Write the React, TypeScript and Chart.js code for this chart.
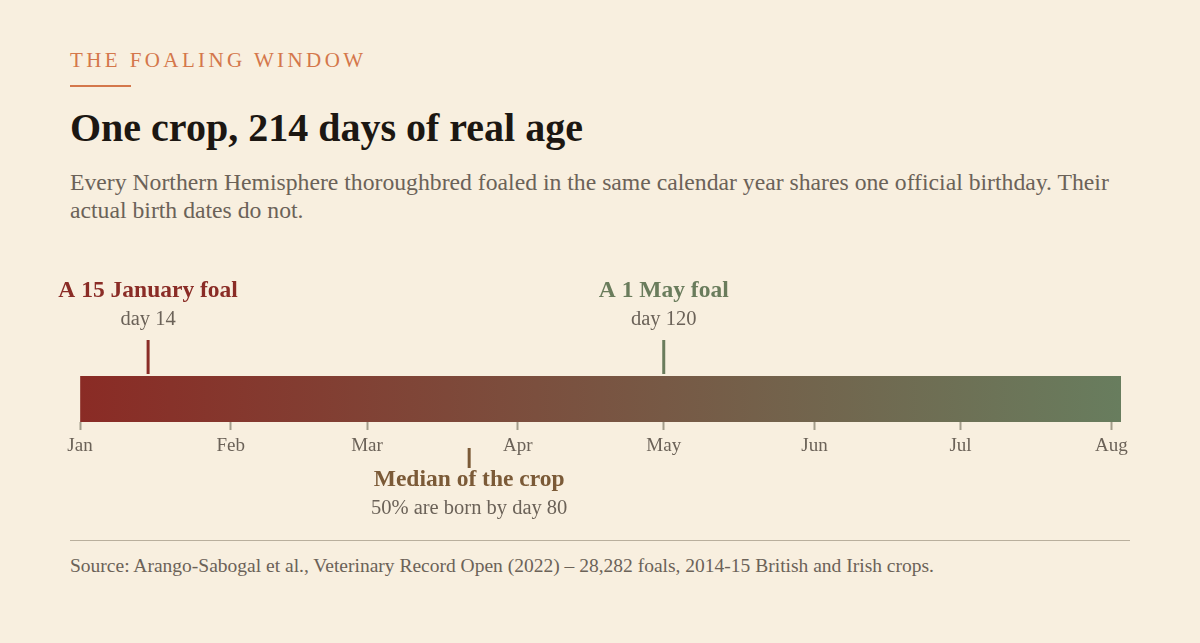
import React, { useEffect, useRef } from 'react';
import { Chart, registerables } from 'chart.js';
Chart.register(...registerables);

// timeline data (day of year, 0 = 1 Jan)
const SEASON_START = 0;
const SEASON_END = 214;
const monthDays = [0, 31, 59, 90, 120, 151, 181, 212];
const monthLabels = ['Jan', 'Feb', 'Mar', 'Apr', 'May', 'Jun', 'Jul', 'Aug'];

// annotated points on the timeline
const markerDays = [14, 120, 80];
const markerTitles = ['A 15 January foal', 'A 1 May foal', 'Median of the crop'];
const markerNotes = ['day 14', 'day 120', '50% are born by day 80'];
const markerSides = ['above', 'above', 'below'];
const markerColors = ['#8a2c26', '#6a7c5c', '#7b5a37'];

const SERIF = '"Liberation Serif", "DejaVu Serif", serif';
const BG = '#f8efdf';
const MUTED = '#6b6258';

const markerPlugin = {
  id: 'markers',
  afterDraw(chart: Chart) {
    const { ctx, chartArea } = chart;
    const x = chart.scales.x;
    ctx.save();
    ctx.textAlign = 'center';
    markerDays.forEach((day, i) => {
      const px = x.getPixelForValue(day);
      const color = markerColors[i];
      const above = markerSides[i] === 'above';
      ctx.strokeStyle = color;
      ctx.lineWidth = 3;
      ctx.beginPath();
      if (above) {
        ctx.moveTo(px, chartArea.top - 36);
        ctx.lineTo(px, chartArea.top - 2);
      } else {
        ctx.moveTo(px, chartArea.bottom + 26);
        ctx.lineTo(px, chartArea.bottom + 46);
      }
      ctx.stroke();
      const t1 = above ? chartArea.top - 79 : chartArea.bottom + 64;
      const t2 = above ? chartArea.top - 51 : chartArea.bottom + 92;
      ctx.fillStyle = color;
      ctx.font = `bold 23.5px ${SERIF}`;
      ctx.fillText(markerTitles[i], px, t1);
      ctx.fillStyle = MUTED;
      ctx.font = `20.5px ${SERIF}`;
      ctx.fillText(markerNotes[i], px, t2);
    });
    ctx.restore();
  },
};

const TimelineChart = () => {
  const canvasRef = useRef<HTMLCanvasElement | null>(null);
  const chartRef = useRef<Chart | null>(null);

  useEffect(() => {
    if (!canvasRef.current) return;
    if (chartRef.current) chartRef.current.destroy();

    chartRef.current = new Chart(canvasRef.current, {
      type: 'bar',
      data: {
        labels: ['crop'],
        datasets: [
          {
            data: [[SEASON_START, SEASON_END]],
            backgroundColor: (c: any) => {
              const area = c.chart.chartArea;
              if (!area) return '#7a5441';
              const g = c.chart.ctx.createLinearGradient(area.left, 0, area.right, 0);
              g.addColorStop(0, '#8a2b25');
              g.addColorStop(1, '#687d5e');
              return g;
            },
            borderWidth: 0,
            barPercentage: 1,
            categoryPercentage: 1,
          },
        ],
      },
      options: {
        indexAxis: 'y',
        animation: false,
        responsive: true,
        maintainAspectRatio: false,
        layout: { padding: { left: 80, right: 79, top: 106, bottom: 78 } },
        plugins: { legend: { display: false }, tooltip: { enabled: false } },
        scales: {
          y: { display: false },
          x: {
            min: SEASON_START,
            max: SEASON_END,
            border: { display: false },
            grid: {
              drawOnChartArea: false,
              drawTicks: true,
              tickLength: 8,
              tickColor: '#a39c8a',
              tickWidth: 2,
            },
            afterBuildTicks: (axis: any) => {
              axis.ticks = monthDays.map((v) => ({ value: v }));
            },
            afterFit: (axis: any) => {
              axis.height = 40;
            },
            ticks: {
              autoSkip: false,
              maxRotation: 0,
              padding: 5,
              color: MUTED,
              font: { family: SERIF, size: 19 },
              callback: (v: any) => monthLabels[monthDays.indexOf(Number(v))] ?? '',
            },
          },
        },
      } as any,
      plugins: [markerPlugin],
    });

    return () => {
      chartRef.current?.destroy();
      chartRef.current = null;
    };
  }, []);

  return (
    <div style={{ position: 'absolute', left: 0, top: 270, width: 1200, height: 270 }}>
      <canvas ref={canvasRef} />
    </div>
  );
};

const App = () => {
  useEffect(() => {
    document.body.style.margin = '0';
    document.body.style.background = BG;
  }, []);

  return (
    <div style={{ position: 'relative', width: 1200, height: 643, background: BG, fontFamily: SERIF, overflow: 'hidden' }}>
      <div style={{ position: 'absolute', left: 70, top: 48, fontSize: 21, letterSpacing: 3.4, color: '#d4774b', whiteSpace: 'nowrap' }}>
        THE FOALING WINDOW
      </div>
      <div style={{ position: 'absolute', left: 70, top: 85, width: 61, height: 2, background: '#d4774b' }} />
      <div style={{ position: 'absolute', left: 70, top: 104, fontSize: 40, lineHeight: '48px', fontWeight: 700, color: '#1c1712', whiteSpace: 'nowrap' }}>
        One crop, 214 days of real age
      </div>
      <div style={{ position: 'absolute', left: 70, top: 168, width: 1060, fontSize: 23.7, lineHeight: '28px', color: MUTED }}>
        Every Northern Hemisphere thoroughbred foaled in the same calendar year shares one official birthday. Their actual birth dates do not.
      </div>
      <TimelineChart />
      <div style={{ position: 'absolute', left: 70, top: 540, width: 1060, height: 1, background: '#b9af9d' }} />
      <div style={{ position: 'absolute', left: 70, top: 555, fontSize: 19.5, color: MUTED, whiteSpace: 'nowrap' }}>
        Source: Arango-Sabogal et al., Veterinary Record Open (2022) – 28,282 foals, 2014-15 British and Irish crops.
      </div>
    </div>
  );
};

export default App;
